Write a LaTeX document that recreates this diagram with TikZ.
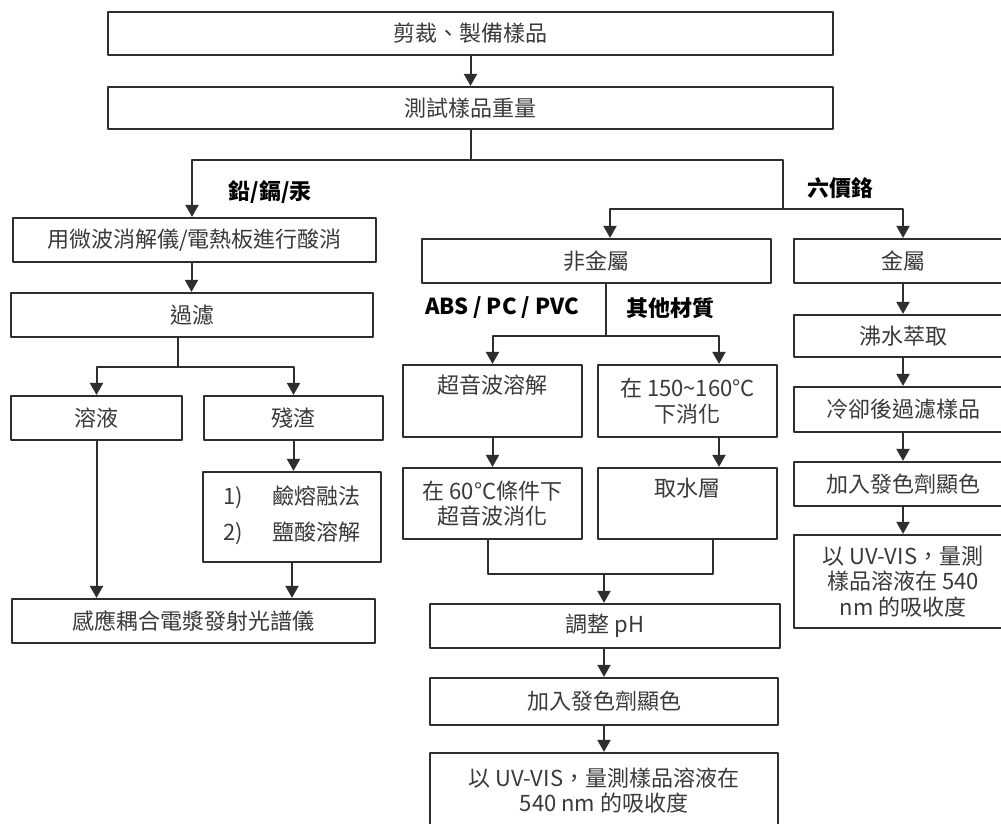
\documentclass[tikz,border=0pt]{standalone}
\usepackage{fontspec}
\setmainfont{Noto Sans CJK TC}[Script=CJK,Language=Chinese Traditional]
\usetikzlibrary{arrows.meta}
\definecolor{ink}{HTML}{2E2E2E}
\definecolor{txt}{HTML}{3A3A3A}

\begin{document}
\begin{tikzpicture}[x=1pt,y=-1pt,line join=round,
  box/.style={draw=ink,line width=2.2pt,inner sep=0pt,text=txt,
    font=\fontsize{22}{25.5}\selectfont,align=center},
  arr/.style={draw=ink,line width=2pt,-{Triangle[width=13pt,length=12pt]}},
  ln/.style={draw=ink,line width=2pt},
  lbl/.style={text=black,font=\fontsize{22}{25}\selectfont\bfseries}]
\clip (0,0) rectangle (1001,824);
\fill[white] (0,0) rectangle (1001,824);

% top
\node[box,minimum width=725,minimum height=43] (cut) at (470.5,33.5) {剪裁、製備樣品};
\node[box,minimum width=725,minimum height=42] (weigh) at (470.5,108) {測試樣品重量};

% left branch
\node[box,minimum width=363,minimum height=44] (acid) at (194.5,240) {用微波消解儀/電熱板進行酸消};
\node[box,minimum width=362,minimum height=44] (filt) at (192,315) {過濾};
\node[box,minimum width=171,minimum height=44] (soln) at (96.5,418) {溶液};
\node[box,minimum width=179,minimum height=44] (resid) at (293.5,418) {殘渣};
\node[box,minimum width=178,minimum height=90] (fuse) at (292,517)
  {\begin{tabular}{@{}l@{\hspace{30pt}}l@{}}1) & 鹼熔融法\\[9pt] 2) & 鹽酸溶解\end{tabular}};
\node[box,minimum width=363,minimum height=44] (icp) at (193.5,621) {感應耦合電漿發射光譜儀};

% middle branch
\node[box,minimum width=349,minimum height=44] (nonm) at (596.5,261) {非金屬};
\node[box,minimum width=179,minimum height=72] (sono) at (492.5,401) {超音波溶解\\\strut};
\node[box,minimum width=179,minimum height=72] (heat) at (687.5,401) {在 150\textasciitilde160°C\\下消化};
\node[box,minimum width=179,minimum height=71] (sonod) at (492.5,503.5) {在 60°C條件下\\超音波消化};
\node[box,minimum width=179,minimum height=71] (water) at (687.5,503.5) {取水層\\\strut};
\node[box,minimum width=350,minimum height=44] (ph) at (605,626) {調整 pH};
\node[box,minimum width=348,minimum height=47] (color) at (604,701.5) {加入發色劑顯色};
\node[box,minimum width=348,minimum height=75] (uv) at (604,790.5) {以 UV-VIS，量測樣品溶液在\\540 nm 的吸收度};

% right branch
\node[box,minimum width=218,minimum height=44] (metal) at (903,261) {金屬};
\node[box,minimum width=218,minimum height=42] (boil) at (903,336) {沸水萃取};
\node[box,minimum width=218,minimum height=45] (cool) at (903,409.5) {冷卻後過濾樣品};
\node[box,minimum width=218,minimum height=44] (rcolor) at (903,484) {加入發色劑顯色};
\node[box,minimum width=218,minimum height=93] (ruv) at (903,581.5) {以 UV-VIS，量測\\樣品溶液在 540\\nm 的吸收度};

% branch labels
\node[lbl] (lbPb) at (270,192) {鉛/鎘/汞};
\node[lbl] (lbCr) at (840,188) {六價鉻};
\node[lbl] (lbAbs) at (502,308) {ABS / PC / PVC};
\node[lbl] (lbOth) at (670,308) {其他材質};

% connectors
\draw[arr] (cut) -- (weigh);
\draw[ln] (weigh.south) -- ++(0,30) coordinate (sp1);
\coordinate (sp2) at (783,209);
\draw[arr] (sp1) -| ([xshift=-2.5]acid.north);
\draw[ln] (sp1) -| (sp2);
\draw[arr] (sp2) -| ([xshift=13.5]nonm.north);
\draw[arr] (sp2) -| (metal.north);

\draw[arr] ([xshift=-3]acid.south) -- ([xshift=-3]acid.south |- filt.north);
\draw[ln] ([xshift=-14]filt.south) -- ++(0,29) coordinate (sp3);
\draw[arr] (sp3) -| (soln.north);
\draw[arr] (sp3) -| (resid.north);
\draw[arr] (resid.south) -- (resid.south |- fuse.north);
\draw[arr] (fuse.south) -- (fuse.south |- icp.north);
\draw[arr] (soln.south) -- (soln.south |- icp.north);

\draw[ln] ([xshift=9.5]nonm.south) -- ++(0,52) coordinate (sp4);
\draw[arr] (sp4) -| (sono.north);
\draw[arr] (sp4) -| ([xshift=31.5]heat.north);
\draw[arr] (sono.south) -- (sono.south |- sonod.north);
\draw[arr] ([xshift=31.5]heat.south) -- ([xshift=31.5]water.north);
\coordinate (mrg) at (604,574);
\draw[ln] ([xshift=-4.5]sonod.south) |- (mrg) -| ([xshift=25.5]water.south);
\draw[arr] (mrg) -- (mrg |- ph.north);
\draw[arr] (ph.south -| color.north) -- (color.north);
\draw[arr] (color) -- (uv);

\draw[arr] (metal) -- (boil);
\draw[arr] (boil) -- (cool);
\draw[arr] (cool) -- (rcolor);
\draw[arr] (rcolor) -- (ruv);
\end{tikzpicture}
\end{document}
